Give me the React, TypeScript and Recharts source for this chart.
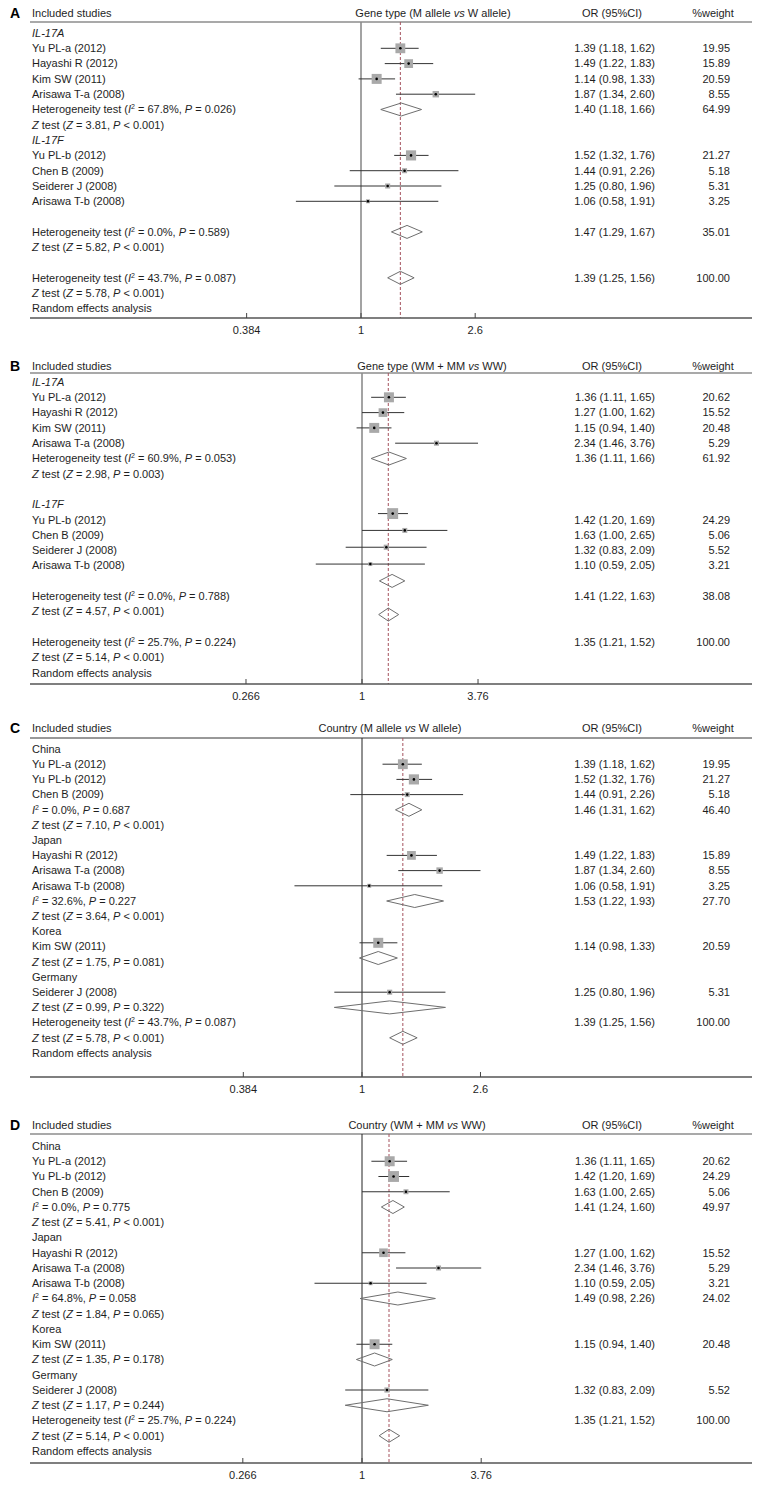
import React from 'react';
import { ComposedChart, XAxis, YAxis, Scatter, ReferenceLine } from 'recharts';

// ---- Panel A: gene type, M allele vs W allele ----
const rowsA = [
  'IL-17A', 'Yu PL-a (2012)', 'Hayashi R (2012)', 'Kim SW (2011)', 'Arisawa T-a (2008)',
  'Heterogeneity test (I^2 = 67.8%, P = 0.026)', 'Z test (Z = 3.81, P < 0.001)',
  'IL-17F', 'Yu PL-b (2012)', 'Chen B (2009)', 'Seiderer J (2008)', 'Arisawa T-b (2008)', '',
  'Heterogeneity test (I^2 = 0.0%, P = 0.589)', 'Z test (Z = 5.82, P < 0.001)', '',
  'Heterogeneity test (I^2 = 43.7%, P = 0.087)', 'Z test (Z = 5.78, P < 0.001)', 'Random effects analysis',
];
const studiesA = [
  { row: 1, mark: 1, or: 1.39, lo: 1.18, hi: 1.62, w: 19.95 },
  { row: 2, mark: 2, or: 1.49, lo: 1.22, hi: 1.83, w: 15.89 },
  { row: 3, mark: 3, or: 1.14, lo: 0.98, hi: 1.33, w: 20.59 },
  { row: 4, mark: 4, or: 1.87, lo: 1.34, hi: 2.6, w: 8.55 },
  { row: 8, mark: 8, or: 1.52, lo: 1.32, hi: 1.76, w: 21.27 },
  { row: 9, mark: 9, or: 1.44, lo: 0.91, hi: 2.26, w: 5.18 },
  { row: 10, mark: 10, or: 1.25, lo: 0.8, hi: 1.96, w: 5.31 },
  { row: 11, mark: 11, or: 1.06, lo: 0.58, hi: 1.91, w: 3.25 },
];
const pooledA = [
  { row: 5, mark: 5, or: 1.4, lo: 1.18, hi: 1.66, w: 64.99 },
  { row: 13, mark: 13, or: 1.47, lo: 1.29, hi: 1.67, w: 35.01 },
  { row: 16, mark: 16, or: 1.39, lo: 1.25, hi: 1.56, w: 100 },
];
const ticksA = [0.384, 1, 2.6];

// ---- Panel B: gene type, WM + MM vs WW ----
const rowsB = [
  'IL-17A', 'Yu PL-a (2012)', 'Hayashi R (2012)', 'Kim SW (2011)', 'Arisawa T-a (2008)',
  'Heterogeneity test (I^2 = 60.9%, P = 0.053)', 'Z test (Z = 2.98, P = 0.003)', '',
  'IL-17F', 'Yu PL-b (2012)', 'Chen B (2009)', 'Seiderer J (2008)', 'Arisawa T-b (2008)', '',
  'Heterogeneity test (I^2 = 0.0%, P = 0.788)', 'Z test (Z = 4.57, P < 0.001)', '',
  'Heterogeneity test (I^2 = 25.7%, P = 0.224)', 'Z test (Z = 5.14, P < 0.001)', 'Random effects analysis',
];
const studiesB = [
  { row: 1, mark: 1, or: 1.36, lo: 1.11, hi: 1.65, w: 20.62 },
  { row: 2, mark: 2, or: 1.27, lo: 1.0, hi: 1.62, w: 15.52 },
  { row: 3, mark: 3, or: 1.15, lo: 0.94, hi: 1.4, w: 20.48 },
  { row: 4, mark: 4, or: 2.34, lo: 1.46, hi: 3.76, w: 5.29 },
  { row: 9, mark: 8.6, or: 1.42, lo: 1.2, hi: 1.69, w: 24.29 },
  { row: 10, mark: 9.7, or: 1.63, lo: 1.0, hi: 2.65, w: 5.06 },
  { row: 11, mark: 10.8, or: 1.32, lo: 0.83, hi: 2.09, w: 5.52 },
  { row: 12, mark: 11.9, or: 1.1, lo: 0.59, hi: 2.05, w: 3.21 },
];
const pooledB = [
  { row: 5, mark: 5, or: 1.36, lo: 1.11, hi: 1.66, w: 61.92 },
  { row: 14, mark: 13, or: 1.41, lo: 1.22, hi: 1.63, w: 38.08 },
  { row: 17, mark: 15.2, or: 1.35, lo: 1.21, hi: 1.52, w: 100 },
];
const ticksB = [0.266, 1, 3.76];

// ---- Panel C: country, M allele vs W allele ----
const rowsC = [
  'China', 'Yu PL-a (2012)', 'Yu PL-b (2012)', 'Chen B (2009)', 'I^2 = 0.0%, P = 0.687', 'Z test (Z = 7.10, P < 0.001)',
  'Japan', 'Hayashi R (2012)', 'Arisawa T-a (2008)', 'Arisawa T-b (2008)', 'I^2 = 32.6%, P = 0.227', 'Z test (Z = 3.64, P < 0.001)',
  'Korea', 'Kim SW (2011)', 'Z test (Z = 1.75, P = 0.081)',
  'Germany', 'Seiderer J (2008)', 'Z test (Z = 0.99, P = 0.322)',
  'Heterogeneity test (I^2 = 43.7%, P = 0.087)', 'Z test (Z = 5.78, P < 0.001)', 'Random effects analysis',
];
const studiesC = [
  { row: 1, mark: 1, or: 1.39, lo: 1.18, hi: 1.62, w: 19.95 },
  { row: 2, mark: 2, or: 1.52, lo: 1.32, hi: 1.76, w: 21.27 },
  { row: 3, mark: 3, or: 1.44, lo: 0.91, hi: 2.26, w: 5.18 },
  { row: 7, mark: 7, or: 1.49, lo: 1.22, hi: 1.83, w: 15.89 },
  { row: 8, mark: 8, or: 1.87, lo: 1.34, hi: 2.6, w: 8.55 },
  { row: 9, mark: 9, or: 1.06, lo: 0.58, hi: 1.91, w: 3.25 },
  { row: 13, mark: 12.75, or: 1.14, lo: 0.98, hi: 1.33, w: 20.59 },
  { row: 16, mark: 16, or: 1.25, lo: 0.8, hi: 1.96, w: 5.31 },
];
const pooledC = [
  { row: 4, mark: 4, or: 1.46, lo: 1.31, hi: 1.62, w: 46.4 },
  { row: 10, mark: 10, or: 1.53, lo: 1.22, hi: 1.93, w: 27.7 },
  { row: null, mark: 13.75, or: 1.14, lo: 0.98, hi: 1.33, w: null },
  { row: null, mark: 17, or: 1.25, lo: 0.8, hi: 1.96, w: null },
  { row: 18, mark: 19, or: 1.39, lo: 1.25, hi: 1.56, w: 100 },
];

// ---- Panel D: country, WM + MM vs WW ----
const rowsD = [
  'China', 'Yu PL-a (2012)', 'Yu PL-b (2012)', 'Chen B (2009)', 'I^2 = 0.0%, P = 0.775', 'Z test (Z = 5.41, P < 0.001)',
  'Japan', 'Hayashi R (2012)', 'Arisawa T-a (2008)', 'Arisawa T-b (2008)', 'I^2 = 64.8%, P = 0.058', 'Z test (Z = 1.84, P = 0.065)',
  'Korea', 'Kim SW (2011)', 'Z test (Z = 1.35, P = 0.178)',
  'Germany', 'Seiderer J (2008)', 'Z test (Z = 1.17, P = 0.244)',
  'Heterogeneity test (I^2 = 25.7%, P = 0.224)', 'Z test (Z = 5.14, P < 0.001)', 'Random effects analysis',
];
const studiesD = [
  { row: 1, mark: 1, or: 1.36, lo: 1.11, hi: 1.65, w: 20.62 },
  { row: 2, mark: 2, or: 1.42, lo: 1.2, hi: 1.69, w: 24.29 },
  { row: 3, mark: 3, or: 1.63, lo: 1.0, hi: 2.65, w: 5.06 },
  { row: 7, mark: 7, or: 1.27, lo: 1.0, hi: 1.62, w: 15.52 },
  { row: 8, mark: 8, or: 2.34, lo: 1.46, hi: 3.76, w: 5.29 },
  { row: 9, mark: 9, or: 1.1, lo: 0.59, hi: 2.05, w: 3.21 },
  { row: 13, mark: 13, or: 1.15, lo: 0.94, hi: 1.4, w: 20.48 },
  { row: 16, mark: 16, or: 1.32, lo: 0.83, hi: 2.09, w: 5.52 },
];
const pooledD = [
  { row: 4, mark: 4, or: 1.41, lo: 1.24, hi: 1.6, w: 49.97 },
  { row: 10, mark: 10, or: 1.49, lo: 0.98, hi: 2.26, w: 24.02 },
  { row: null, mark: 14, or: 1.15, lo: 0.94, hi: 1.4, w: null },
  { row: null, mark: 17, or: 1.32, lo: 0.83, hi: 2.09, w: null },
  { row: 18, mark: 19, or: 1.35, lo: 1.21, hi: 1.52, w: 100 },
];

const FONT = '"Liberation Sans", Arial, sans-serif';
const TEXT = '#1e1e1e';
const italicLabels = ['IL-17A', 'IL-17F'];

// italic I, P, Z and "vs", superscript 2 after I
function rich(str: string) {
  const parts = str.split(/(I\^2|\bP\b|\bZ\b|\bvs\b)/);
  const out: any[] = [];
  let shift: number | undefined;
  parts.forEach((p, i) => {
    if (!p) return;
    if (p === 'I^2') {
      out.push(<tspan key={i + 'a'} dy={shift} fontStyle="italic">I</tspan>);
      out.push(<tspan key={i + 'b'} dy={-4} fontSize={7}>2</tspan>);
      shift = 4;
    } else if (p === 'P' || p === 'Z' || p === 'vs') {
      out.push(<tspan key={i} dy={shift} fontStyle="italic">{p}</tspan>);
      shift = undefined;
    } else {
      out.push(<tspan key={i} dy={shift}>{p}</tspan>);
      shift = undefined;
    }
  });
  return out;
}

const fmtCI = (p: any) => `${p.or.toFixed(2)} (${p.lo.toFixed(2)}, ${p.hi.toFixed(2)})`;

function Panel(props: any) {
  const { L, letter, title, rows, studies, pooled, ticks, tickFmt } = props;
  const toRow = (py: number) => (py - L.row0) / L.pitch;
  const yTop = toRow(L.plotTop);
  const yBot = toRow(L.axisY);
  const headRow = toRow(L.headerY);
  const lineRow = toRow(L.lineY);
  const xDomain = [Math.exp((30 - L.nullX) / L.perLn), Math.exp((752 - L.nullX) / L.perLn)];
  const dh = 6.5 / L.pitch;
  const overall = pooled[pooled.length - 1].or;

  const textByRow: any = {};
  [...studies, ...pooled].forEach((s: any) => {
    if (s.row != null) textByRow[s.row] = { ci: fmtCI(s), w: s.w.toFixed(2) };
  });
  const yTicks = [headRow, ...rows.map((r: string, i: number) => (r ? i : -99)).filter((i: number) => i >= 0)];

  const rowTick = (tp: any) => {
    const { y, payload } = tp;
    const v = payload.value;
    const base = { fontFamily: FONT, fontSize: 11, fill: TEXT };
    if (Math.abs(v - headRow) < 1e-6) {
      return (
        <g>
          <text x={10} y={y} dy="0.36em" {...base} fontSize={14} fontWeight="bold" fill="#000">{letter}</text>
          <text x={32} y={y} dy="0.35em" {...base}>Included studies</text>
          <text x={L.titleX} y={y} dy="0.35em" textAnchor="middle" {...base}>{rich(title)}</text>
          <text x={612} y={y} dy="0.35em" textAnchor="middle" {...base}>OR (95%CI)</text>
          <text x={713} y={y} dy="0.35em" textAnchor="middle" {...base}>%weight</text>
        </g>
      );
    }
    const label = rows[v] || '';
    const t = textByRow[v];
    return (
      <g>
        <text x={32} y={y} dy="0.35em" {...base} fontStyle={italicLabels.includes(label) ? 'italic' : 'normal'}>{rich(label)}</text>
        {t && <text x={655} y={y} dy="0.35em" textAnchor="end" {...base}>{t.ci}</text>}
        {t && <text x={730} y={y} dy="0.35em" textAnchor="end" {...base}>{t.w}</text>}
      </g>
    );
  };

  const axisTick = (tp: any) => {
    const { x, y, payload } = tp;
    return (
      <g>
        <line x1={x} x2={x} y1={y} y2={y - 5} stroke="#444" />
        <text x={x} y={y + 12} dy="0.35em" textAnchor="middle" fontFamily={FONT} fontSize={11} fill={TEXT}>{tickFmt(payload.value)}</text>
      </g>
    );
  };

  const squares = studies.map((s: any) => ({ x: s.or, y: s.mark, w: s.w }));
  const squareShape = (sp: any) => {
    const { cx, cy, payload } = sp;
    const side = 2.2 * Math.sqrt(payload.w);
    return (
      <g>
        <rect x={cx - side / 2} y={cy - side / 2} width={side} height={side} fill="#a9a9a9" />
        <circle cx={cx} cy={cy} r={1.3} fill="#000" />
      </g>
    );
  };
  const noShape = () => <g />;
  const height = L.axisY - L.top + 26;

  return (
    <div style={{ position: 'absolute', left: 0, top: L.top }}>
      <ComposedChart width={758} height={height} margin={{ top: L.plotTop - L.top, right: 6, bottom: 0, left: 0 }}>
        <XAxis
          type="number" dataKey="x" scale="log" domain={xDomain} allowDataOverflow
          ticks={ticks} interval={0} tickSize={0} tickMargin={0} height={26}
          axisLine={{ stroke: '#555', strokeWidth: 1.4 }} tickLine={false} tick={axisTick}
        />
        <YAxis
          type="number" dataKey="y" domain={[yTop, yBot]} reversed allowDataOverflow
          ticks={yTicks} interval={0} axisLine={false} tickLine={false} tick={rowTick} width={30}
        />
        <ReferenceLine y={lineRow} stroke={L.lineColor} strokeWidth={L.lineWidth} ifOverflow="visible" />
        <ReferenceLine segment={[{ x: 1, y: lineRow }, { x: 1, y: yBot }]} stroke={L.nullColor} strokeWidth={L.nullWidth} ifOverflow="visible" />
        <ReferenceLine segment={[{ x: overall, y: lineRow }, { x: overall, y: yBot }]} stroke="#a5525e" strokeDasharray="3 2" ifOverflow="visible" />
        {studies.map((s: any, i: number) => (
          <ReferenceLine key={'ci' + i} segment={[{ x: s.lo, y: s.mark }, { x: s.hi, y: s.mark }]} stroke="#333" ifOverflow="visible" />
        ))}
        <Scatter data={squares} shape={squareShape} isAnimationActive={false} />
        {pooled.map((p: any, i: number) => (
          <Scatter
            key={'d' + i}
            data={[
              { x: p.lo, y: p.mark }, { x: p.or, y: p.mark - dh }, { x: p.hi, y: p.mark },
              { x: p.or, y: p.mark + dh }, { x: p.lo, y: p.mark },
            ]}
            line={{ stroke: '#6e6e6e', strokeWidth: 1 }}
            shape={noShape}
            isAnimationActive={false}
          />
        ))}
      </ComposedChart>
    </div>
  );
}

const layoutA = { top: 0, plotTop: 2, headerY: 13, lineY: 22, row0: 33, pitch: 15.3, axisY: 318, nullX: 361, perLn: 119.5, titleX: 433, lineColor: '#8c8c8c', lineWidth: 1.6, nullColor: '#8c8c8c', nullWidth: 1.6 };
const layoutB = { top: 345, plotTop: 355, headerY: 366, lineY: 373, row0: 382, pitch: 15.3, axisY: 684, nullX: 362, perLn: 87.6, titleX: 432, lineColor: '#8c8c8c', lineWidth: 1.6, nullColor: '#8c8c8c', nullWidth: 1.6 };
const layoutC = { top: 710, plotTop: 717, headerY: 728, lineY: 738, row0: 749, pitch: 15.2, axisY: 1077, nullX: 362, perLn: 124, titleX: 390, lineColor: '#333', lineWidth: 1, nullColor: '#222', nullWidth: 1 };
const layoutD = { top: 1104, plotTop: 1114, headerY: 1125, lineY: 1134, row0: 1146, pitch: 15.25, axisY: 1463, nullX: 362, perLn: 90, titleX: 417, lineColor: '#8c8c8c', lineWidth: 1.4, nullColor: '#222', nullWidth: 1 };

const fmtTick = (v: number) => String(v);

export default function App() {
  return (
    <div style={{ position: 'absolute', left: 0, top: 0, width: 758, height: 1490, background: '#fff' }}>
      <Panel L={layoutA} letter="A" title="Gene type (M allele vs W allele)" rows={rowsA} studies={studiesA} pooled={pooledA} ticks={ticksA} tickFmt={fmtTick} />
      <Panel L={layoutB} letter="B" title="Gene type (WM + MM vs WW)" rows={rowsB} studies={studiesB} pooled={pooledB} ticks={ticksB} tickFmt={fmtTick} />
      <Panel L={layoutC} letter="C" title="Country (M allele vs W allele)" rows={rowsC} studies={studiesC} pooled={pooledC} ticks={ticksA} tickFmt={fmtTick} />
      <Panel L={layoutD} letter="D" title="Country (WM + MM vs WW)" rows={rowsD} studies={studiesD} pooled={pooledD} ticks={ticksB} tickFmt={fmtTick} />
    </div>
  );
}
